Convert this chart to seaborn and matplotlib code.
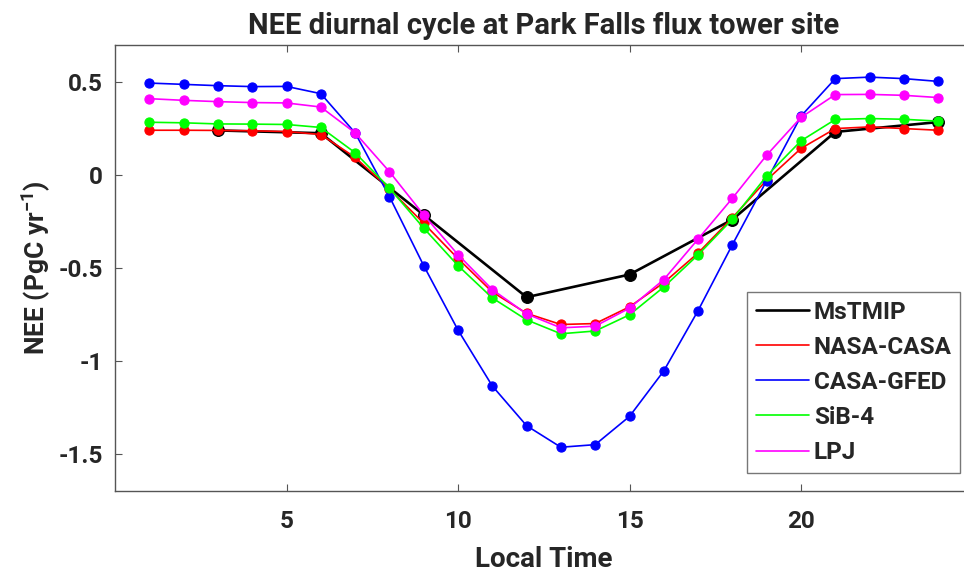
import matplotlib
matplotlib.use("Agg")
import matplotlib.pyplot as plt
from matplotlib.lines import Line2D
import numpy as np
import pandas as pd
import seaborn as sns

# Hourly NEE (PgC/yr) over local time at Park Falls
hours = list(range(1, 25))
mstmip_hours = [3, 6, 9, 12, 15, 18, 21, 24]
mstmip = [0.24, 0.225, -0.215, -0.658, -0.536, -0.24, 0.232, 0.285]
nasa_casa = [0.241, 0.241, 0.240, 0.238, 0.234, 0.218, 0.095, -0.075, -0.26, -0.45,
             -0.63, -0.745, -0.805, -0.80, -0.71, -0.58, -0.42, -0.23, -0.027, 0.143,
             0.25, 0.259, 0.25, 0.241]
casa_gfed = [0.495, 0.488, 0.481, 0.476, 0.477, 0.438, 0.227, -0.116, -0.488, -0.835,
             -1.136, -1.35, -1.466, -1.452, -1.30, -1.055, -0.73, -0.375, -0.03, 0.317,
             0.519, 0.527, 0.519, 0.504]
sib4 = [0.284, 0.281, 0.275, 0.274, 0.272, 0.256, 0.12, -0.07, -0.286, -0.488,
        -0.662, -0.78, -0.855, -0.84, -0.753, -0.603, -0.43, -0.238, -0.005, 0.184,
        0.299, 0.304, 0.30, 0.29]
lpj = [0.411, 0.402, 0.395, 0.39, 0.388, 0.366, 0.227, 0.018, -0.215, -0.429,
       -0.617, -0.748, -0.823, -0.814, -0.717, -0.563, -0.345, -0.125, 0.107, 0.31,
       0.433, 0.434, 0.429, 0.417]

series_names = ["MsTMIP", "NASA-CASA", "CASA-GFED", "SiB-4", "LPJ"]
series_colors = ["#000000", "#ff0000", "#0000ff", "#00ff00", "#ff00ff"]
x_ticks = [5, 10, 15, 20]
y_ticks = [-1.5, -1, -0.5, 0, 0.5]
y_tick_labels = ["-1.5", "-1", "-0.5", "0", "0.5"]

sns.set_style("ticks")
plt.rcParams["font.family"] = ["Roboto", "DejaVu Sans"]
plt.rcParams["font.weight"] = "bold"
plt.rcParams["mathtext.fontset"] = "custom"
plt.rcParams["mathtext.rm"] = "Roboto"
plt.rcParams["mathtext.bf"] = "Roboto:bold"

fig = plt.figure(figsize=(9.64, 5.80), dpi=100)
ax = fig.add_axes([115 / 964, 1 - 490.7 / 580, 857.5 / 964, 445.7 / 580])

frames = [
    pd.DataFrame({"hour": mstmip_hours, "nee": mstmip}),
    pd.DataFrame({"hour": hours, "nee": nasa_casa}),
    pd.DataFrame({"hour": hours, "nee": casa_gfed}),
    pd.DataFrame({"hour": hours, "nee": sib4}),
    pd.DataFrame({"hour": hours, "nee": lpj}),
]

for i, (df, name, col) in enumerate(zip(frames, series_names, series_colors)):
    is_ref = i == 0
    sns.lineplot(data=df, x="hour", y="nee", ax=ax, color=col,
                 linewidth=1.9 if is_ref else 1.2,
                 marker="o", markersize=8.5 if is_ref else 6.6,
                 markeredgecolor=col, markeredgewidth=0.8,
                 sort=False, estimator=None, legend=False, zorder=2 + i)

ax.set_xlim(0, 25)
ax.set_ylim(-1.7, 0.7)
ax.set_xticks(x_ticks)
ax.set_xticklabels([str(t) for t in x_ticks])
ax.set_yticks(y_ticks)
ax.set_yticklabels(y_tick_labels)
ax.tick_params(direction="in", length=5, width=0.8, color="#555555",
               labelsize=17.5, top=True, right=True)
ax.tick_params(axis="x", pad=14)
ax.tick_params(axis="y", pad=8.5)
for lab in ax.get_xticklabels() + ax.get_yticklabels():
    lab.set_fontweight("bold")
for sp in ax.spines.values():
    sp.set_color("#555555")
    sp.set_linewidth(1.0)

ax.set_title("NEE diurnal cycle at Park Falls flux tower site",
             fontsize=21, fontweight="bold", pad=8)
ax.set_xlabel("Local Time", fontsize=20, fontweight="bold", labelpad=9)
ax.set_ylabel(r"NEE (PgC yr$^{\mathbf{-1}}$)", fontsize=19, fontweight="bold", labelpad=4)

handles = [Line2D([0], [0], color=c, linewidth=1.9 if i == 0 else 1.2)
           for i, c in enumerate(series_colors)]
leg = fig.legend(handles, series_names, loc="upper left",
                 bbox_to_anchor=(747 / 964, 1 - 292 / 580),
                 frameon=True, fancybox=False, fontsize=17.5,
                 handlelength=2.2, handletextpad=0.2, labelspacing=0.5,
                 borderpad=0.35, borderaxespad=0)
leg.get_frame().set_edgecolor("#555555")
leg.get_frame().set_linewidth(1.0)
for t in leg.get_texts():
    t.set_fontweight("bold")

fig.savefig("out.png", dpi=100, facecolor="white")
